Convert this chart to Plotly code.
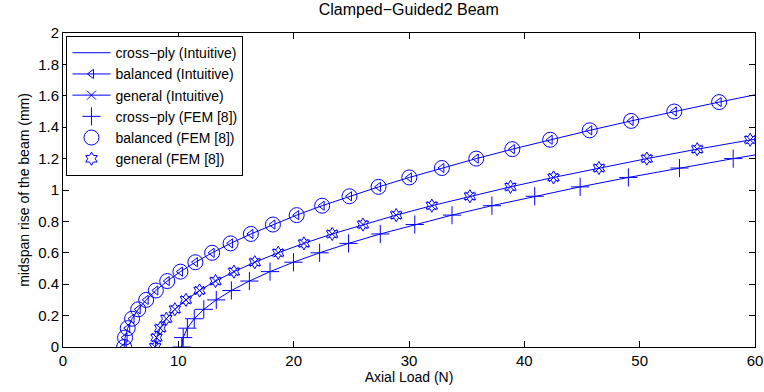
import plotly.graph_objects as go

# Midspan rise values (mm), shared sampling for all series
rise_bal = [0.00, 0.06, 0.12, 0.18, 0.24, 0.30, 0.36, 0.42, 0.48, 0.54, 0.60, 0.66, 0.72, 0.78,
            0.84, 0.90, 0.96, 1.02, 1.08, 1.14, 1.20, 1.26, 1.32, 1.38, 1.44, 1.50, 1.56, 1.62]
load_bal = [5.30, 5.38, 5.61, 5.99, 6.52, 7.21, 8.05, 9.04, 10.18, 11.48, 12.93, 14.53, 16.29, 18.20,
            20.26, 22.47, 24.84, 27.36, 30.03, 32.85, 35.83, 38.96, 42.24, 45.67, 49.26, 53.00, 56.89, 60.94]

rise_gen = [0.00, 0.06, 0.12, 0.18, 0.24, 0.30, 0.36, 0.42, 0.48, 0.54, 0.60, 0.66,
            0.72, 0.78, 0.84, 0.90, 0.96, 1.02, 1.08, 1.14, 1.20, 1.26, 1.32, 1.38]
load_gen = [8.00, 8.11, 8.43, 8.96, 9.70, 10.66, 11.84, 13.22, 14.82, 16.63, 18.66, 20.89,
            23.34, 26.01, 28.89, 31.98, 35.28, 38.80, 42.53, 46.47, 50.62, 54.99, 59.58, 64.37]

rise_cp = [0.00, 0.06, 0.12, 0.18, 0.24, 0.30, 0.36, 0.42, 0.48, 0.54, 0.60,
           0.66, 0.72, 0.78, 0.84, 0.90, 0.96, 1.02, 1.08, 1.14, 1.20, 1.26]
load_cp = [10.30, 10.42, 10.78, 11.38, 12.21, 13.29, 14.60, 16.16, 17.95, 19.98, 22.25,
           24.76, 27.51, 30.50, 33.73, 37.19, 40.90, 44.84, 49.02, 53.45, 58.11, 63.01]

# FEM reference points [8]
fem_load_cp = [10.30, 10.42, 10.78, 11.38, 12.21, 13.29, 14.60, 16.16, 17.95, 19.98, 22.25,
               24.76, 27.51, 30.50, 33.73, 37.19, 40.90, 44.84, 49.02, 53.45, 58.11]
fem_rise_cp = [0.00, 0.06, 0.12, 0.18, 0.24, 0.30, 0.36, 0.42, 0.48, 0.54, 0.60,
               0.66, 0.72, 0.78, 0.84, 0.90, 0.96, 1.02, 1.08, 1.14, 1.20]
fem_load_bal = [5.30, 5.38, 5.61, 5.99, 6.52, 7.21, 8.05, 9.04, 10.18, 11.48, 12.93, 14.53, 16.29, 18.20,
                20.26, 22.47, 24.84, 27.36, 30.03, 32.85, 35.83, 38.96, 42.24, 45.67, 49.26, 53.00, 56.89]
fem_rise_bal = [0.00, 0.06, 0.12, 0.18, 0.24, 0.30, 0.36, 0.42, 0.48, 0.54, 0.60, 0.66, 0.72, 0.78,
                0.84, 0.90, 0.96, 1.02, 1.08, 1.14, 1.20, 1.26, 1.32, 1.38, 1.44, 1.50, 1.56]
fem_load_gen = [8.00, 8.11, 8.43, 8.96, 9.70, 10.66, 11.84, 13.22, 14.82, 16.63, 18.66, 20.89,
                23.34, 26.01, 28.89, 31.98, 35.28, 38.80, 42.53, 46.47, 50.62, 54.99, 59.58]
fem_rise_gen = [0.00, 0.06, 0.12, 0.18, 0.24, 0.30, 0.36, 0.42, 0.48, 0.54, 0.60, 0.66,
                0.72, 0.78, 0.84, 0.90, 0.96, 1.02, 1.08, 1.14, 1.20, 1.26, 1.32]

x_ticks = [0, 10, 20, 30, 40, 50, 60]
y_ticks = [0, 0.2, 0.4, 0.6, 0.8, 1, 1.2, 1.4, 1.6, 1.8, 2]

BLUE = "rgb(0,0,255)"
FONT = "Liberation Sans, Arial, Helvetica, sans-serif"

fig = go.Figure()
fig.add_trace(go.Scatter(x=load_cp, y=rise_cp, mode="lines", name="cross\u2212ply (Intuitive)",
                         line=dict(color=BLUE, width=1)))
fig.add_trace(go.Scatter(x=load_bal, y=rise_bal, mode="lines+markers", name="balanced (Intuitive)",
                         line=dict(color=BLUE, width=1),
                         marker=dict(symbol="triangle-left-open", size=8, color=BLUE,
                                     line=dict(color=BLUE, width=1))))
fig.add_trace(go.Scatter(x=load_gen, y=rise_gen, mode="lines+markers", name="general (Intuitive)",
                         line=dict(color=BLUE, width=1),
                         marker=dict(symbol="x-thin-open", size=9, color=BLUE,
                                     line=dict(color=BLUE, width=1))))
fig.add_trace(go.Scatter(x=fem_load_cp, y=fem_rise_cp, mode="markers", name="cross\u2212ply (FEM [8])",
                         marker=dict(symbol="cross-thin-open", size=13, color=BLUE,
                                     line=dict(color=BLUE, width=1))))
fig.add_trace(go.Scatter(x=fem_load_bal, y=fem_rise_bal, mode="markers", name="balanced (FEM [8])",
                         marker=dict(symbol="circle-open", size=15, color=BLUE,
                                     line=dict(color=BLUE, width=1))))
fig.add_trace(go.Scatter(x=fem_load_gen, y=fem_rise_gen, mode="markers", name="general (FEM [8])",
                         marker=dict(symbol="hexagram-open", size=10, color=BLUE,
                                     line=dict(color=BLUE, width=1))))

axis_common = dict(showline=True, linecolor="black", linewidth=1, mirror="ticks",
                   ticks="inside", ticklen=6, tickcolor="black", tickwidth=1,
                   showgrid=False, zeroline=False, automargin=False,
                   tickfont=dict(family=FONT, size=15, color="black"))

fig.update_layout(
    width=764, height=392,
    margin=dict(l=63, r=9, t=33, b=45),
    paper_bgcolor="white", plot_bgcolor="white",
    title=dict(text="Clamped\u2212Guided2 Beam", x=0.535, xanchor="center", y=0.99, yanchor="top",
               font=dict(family=FONT, size=16, color="black")),
    xaxis=dict(range=[0, 60], tickvals=x_ticks, ticktext=[str(v) for v in x_ticks],
               title=dict(text="Axial Load (N)", standoff=3, font=dict(family=FONT, size=14, color="black")),
               **axis_common),
    yaxis=dict(range=[0, 2], tickvals=y_ticks, ticktext=[("%g" % v) for v in y_ticks],
               title=dict(text="midspan rise of the beam (mm)", standoff=5,
                          font=dict(family=FONT, size=14, color="black")),
               **axis_common),
    showlegend=True,
    legend=dict(x=0.005, y=0.99, xanchor="left", yanchor="top",
                bgcolor="white", bordercolor="black", borderwidth=1,
                font=dict(family=FONT, size=14, color="black"),
                tracegroupgap=0, itemwidth=38),
)

fig.write_html("out.html")
